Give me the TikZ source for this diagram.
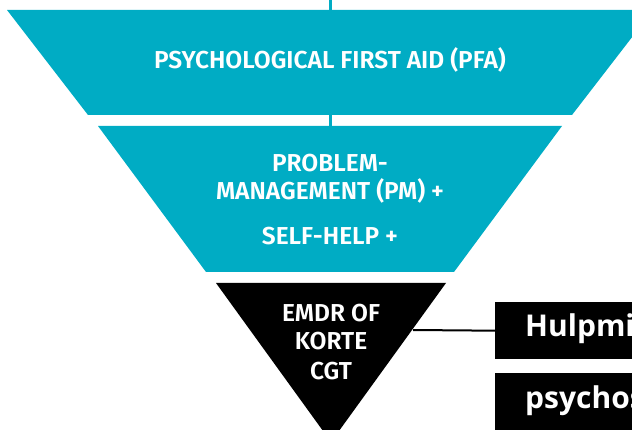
\documentclass[tikz,border=0pt]{standalone}
\usepackage{fontspec}
\setmainfont{Fira Sans}[BoldFont={Fira Sans SemiBold}]
\newfontfamily\boxfont{Open Sans}
\definecolor{tealA}{RGB}{0,172,196}
\tikzset{
  lbl/.style={text=white, anchor=base, inner sep=0pt, font=\fontsize{24.5}{28}\selectfont\bfseries},
  boxlbl/.style={text=white, anchor=base west, inner sep=0pt, font=\fontsize{30}{34}\selectfont\boxfont\bfseries},
  blackbox/.style={fill=black, draw=none, anchor=north west, inner sep=0pt},
}
\begin{document}
\begin{tikzpicture}[x=1pt,y=-1pt]
\useasboundingbox (0,0) rectangle (632,430);
\clip (0,0) rectangle (632,430);
% coordinates
\coordinate (topc) at (330,0);
\coordinate (t1top) at (330,10);
\coordinate (t1bot) at (330,115);
\coordinate (t2top) at (330,126);
% connectors (teal stems)
\draw[tealA, line width=3pt] (topc) -- (t1top);
\draw[tealA, line width=3pt] (t1bot) -- (t2top);
% shapes
\fill[tealA] (7,10) -- (653,10) -- (572,115) -- (88,115) -- cycle;
\fill[tealA] (98,126) -- (562,126) -- (454,272) -- (206,272) -- cycle;
\fill[black] (216,283) -- (446,283) -- (331,442) -- cycle;
\coordinate (trir) at (413,330);
% boxes
\node[blackbox, minimum width=150pt, minimum height=57pt] (box1) at (495,302) {};
\node[blackbox, minimum width=150pt, minimum height=70pt] (box2) at (495,373) {};
\draw[black, line width=2pt] (trir) -- (box1.west);
% texts
\node[lbl] (pfa) at (330,69) {PSYCHOLOGICAL FIRST AID (PFA)};
\node[lbl] (pm1) at (330,172) {PROBLEM-};
\node[lbl] (pm2) at (330,200) {MANAGEMENT (PM) +};
\node[lbl] (pm3) at (330,245) {SELF-HELP +};
\node[lbl] (e1) at (331,322) {EMDR OF};
\node[lbl] (e2) at (331,350) {KORTE};
\node[lbl] (e3) at (331,380) {CGT};
\node[boxlbl] (b1t) at (525,337) {Hulpmi};
\node[boxlbl] (b2t) at (525,408) {psychos};
\end{tikzpicture}
\end{document}
